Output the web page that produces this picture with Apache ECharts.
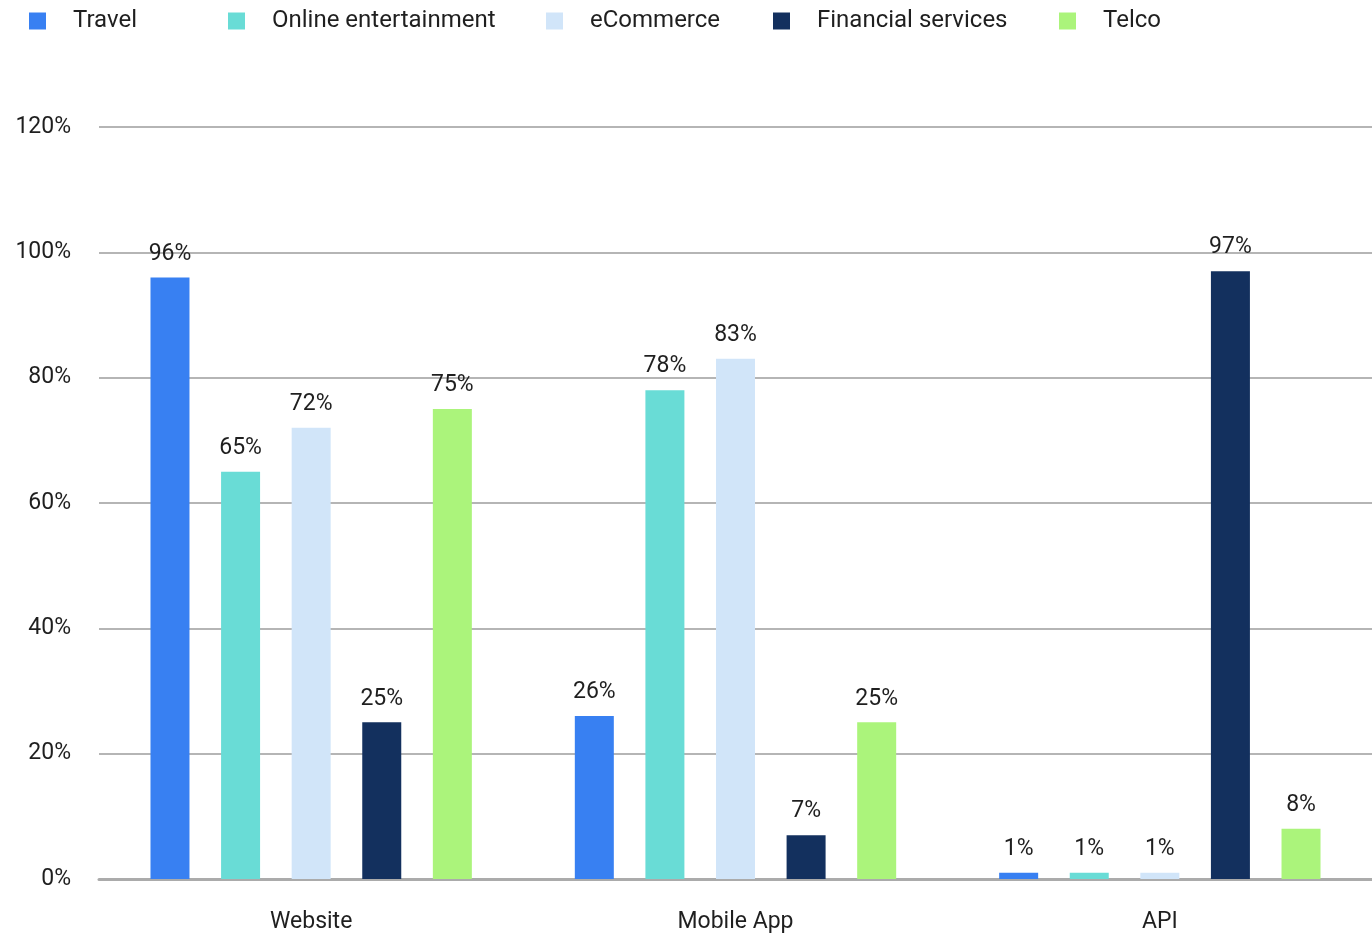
<!DOCTYPE html>
<html>
<head>
<meta charset="utf-8">
<script src="https://cdn.jsdelivr.net/npm/echarts@6/dist/echarts.min.js"></script>
<style>
  html, body { margin: 0; padding: 0; background: #ffffff; }
  #chart { width: 1372px; height: 937px; }
</style>
</head>
<body>
<div id="chart"></div>
<script>
// Channels shown on the x axis
const categories = ['Website', 'Mobile App', 'API'];

// Share of respondents per industry, in percent
const travel = [96, 26, 1];
const onlineEntertainment = [65, 78, 1];
const eCommerce = [72, 83, 1];
const financialServices = [25, 7, 97];
const telco = [75, 25, 8];

const seriesNames = ['Travel', 'Online entertainment', 'eCommerce', 'Financial services', 'Telco'];
const seriesValues = [travel, onlineEntertainment, eCommerce, financialServices, telco];
const seriesColors = ['#3880f2', '#69dcd6', '#d1e5f9', '#13305e', '#abf47b'];

// Horizontal start of each legend entry
const legendLefts = [29, 228, 546, 773, 1059];

const FONT = 'Roboto, "Noto Sans", sans-serif';
const TEXT = '#1f1f1f';

const chart = echarts.init(document.getElementById('chart'), null, { renderer: 'canvas' });

const legends = seriesNames.map((name, i) => ({
  data: [name],
  left: legendLefts[i],
  top: 9,
  padding: 0,
  itemWidth: 17,
  itemHeight: 17,
  icon: 'rect',
  selectedMode: false,
  textStyle: {
    fontFamily: FONT,
    fontSize: 24,
    color: TEXT,
    padding: [0, 0, 0, 22]
  }
}));

const series = seriesNames.map((name, i) => ({
  name: name,
  type: 'bar',
  data: seriesValues[i],
  barWidth: 39,
  barGap: '81%',
  itemStyle: { color: seriesColors[i] },
  label: {
    show: true,
    position: 'top',
    distance: 12,
    formatter: '{c}%',
    fontFamily: FONT,
    fontSize: 23,
    color: TEXT
  }
}));

chart.setOption({
  animation: false,
  backgroundColor: '#ffffff',
  legend: legends,
  grid: { left: 99, right: 0, top: 127, bottom: 58, containLabel: false },
  xAxis: {
    type: 'category',
    data: categories,
    axisLine: { show: true, lineStyle: { color: '#ababab', width: 3 } },
    axisTick: { show: false },
    axisLabel: {
      margin: 32,
      fontFamily: FONT,
      fontSize: 23,
      color: TEXT
    }
  },
  yAxis: {
    type: 'value',
    min: 0,
    max: 120,
    interval: 20,
    axisLine: { show: false },
    axisTick: { show: false },
    splitLine: { lineStyle: { color: '#b5b5b5', width: 2 } },
    axisLabel: {
      margin: 28,
      formatter: '{value}%',
      fontFamily: FONT,
      fontSize: 23,
      color: TEXT
    }
  },
  series: series
});
</script>
</body>
</html>
